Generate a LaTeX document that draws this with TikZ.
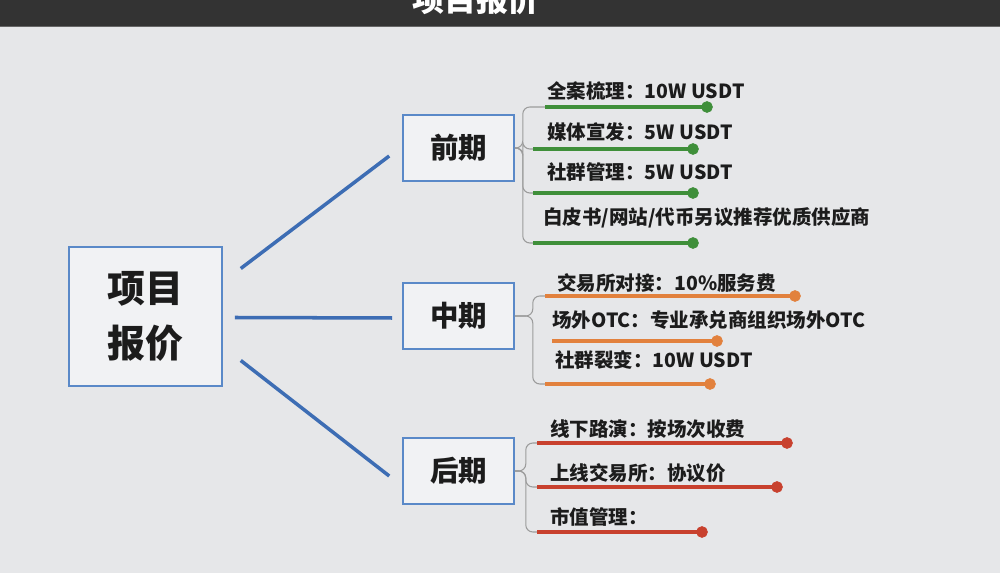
\documentclass[tikz,border=0pt]{standalone}
\usepackage{fontspec}
\newfontfamily\cjk{Noto Sans CJK SC}
\usetikzlibrary{calc}

\definecolor{bgcol}{HTML}{E6E7E9}
\definecolor{barcol}{HTML}{333333}
\definecolor{boxline}{HTML}{5A89C8}
\definecolor{boxfill}{HTML}{F1F2F4}
\definecolor{bluecol}{HTML}{3D6DB4}
\definecolor{greencol}{HTML}{3F8F3A}
\definecolor{orangecol}{HTML}{E2813D}
\definecolor{redcol}{HTML}{C8412E}
\definecolor{brkcol}{HTML}{9C9C9C}
\definecolor{txtcol}{HTML}{1C1C1C}

\begin{document}
\begin{tikzpicture}[x=0.02cm, y=-0.02cm,
    topbox/.style={draw=boxline, line width=0.9pt, fill=boxfill, text=txtcol,
        font=\cjk\bfseries\fontsize{16.2}{18}\selectfont, minimum width=2.22cm, minimum height=1.32cm},
    rootbox/.style={topbox, font=\cjk\bfseries\fontsize{21.6}{31}\selectfont,
        minimum width=3.06cm, minimum height=2.78cm, align=center},
    leaf/.style={anchor=west, inner sep=0pt, text=txtcol, font=\cjk\bfseries\fontsize{11.1}{13}\selectfont},
    bline/.style={bluecol, line width=2pt},
    brk/.style={brkcol, line width=0.6pt, rounded corners=4pt},
    uline/.style={line width=2.2pt}]

    \useasboundingbox (0,0) rectangle (1000,573);
    \clip (0,0) rectangle (1000,573);
    \fill[bgcol] (0,0) rectangle (1000,573);

    % title bar
    \fill[barcol] (0,0) rectangle (1000,26);
    \fill[black!60] (0,26) rectangle (1000,27.5);
    \node[white, font=\cjk\bfseries\fontsize{18.2}{20}\selectfont] (title) at (476,-1) {项目报价};

    % main boxes
    \node[rootbox] (root) at (145.5,316.5) {项目\\报价};
    \node[topbox] (qian) at (458.5,148) {前期};
    \node[topbox] (zhong) at (458.5,316) {中期};
    \node[topbox] (hou) at (458.5,471) {后期};

    \draw[bline] ([shift={(18,-48)}]root.east) -- ([shift={(-13,8)}]qian.west);
    \draw[bline] ([shift={(12,1)}]root.east) -- ([shift={(-10,2)}]zhong.west);
    \draw[bline] ([shift={(18,44)}]root.east) -- ([shift={(-13,5)}]hou.west);

    % 前期
    \coordinate (a1s) at (545,107); \coordinate (a1e) at (707,107);
    \coordinate (a2s) at (533,149); \coordinate (a2e) at (693,149);
    \coordinate (a3s) at (533,193); \coordinate (a3e) at (693,193);
    \coordinate (a4s) at (533,243); \coordinate (a4e) at (693,243);
    \node[leaf] (a1) at (547,91) {全案梳理：10W USDT};
    \node[leaf] (a2) at (547,132) {媒体宣发：5W USDT};
    \node[leaf] (a3) at (547,172) {社群管理：5W USDT};
    \node[leaf] (a4) at (543,218) {白皮书/网站/代币另议推荐优质供应商};
    \foreach \i in {1,...,4} {
        \draw[brk] (qian.east) -- ++(8,0) |- (a\i s);
        \draw[greencol, uline] (a\i s) -- (a\i e);
        \filldraw[greencol] (a\i e) circle (3.1pt);
    }

    % 中期
    \coordinate (b1s) at (545,296); \coordinate (b1e) at (795,296);
    \coordinate (b2s) at (552,341); \coordinate (b2e) at (717,341);
    \coordinate (b3s) at (545,384); \coordinate (b3e) at (710,384);
    \node[leaf] (b1) at (557,283) {交易所对接：10\%服务费};
    \node[leaf] (b2) at (552,320) {场外OTC：专业承兑商组织场外OTC};
    \node[leaf] (b3) at (555,360) {社群裂变：10W USDT};
    \draw[brk] (zhong.east) -- ++(18,0) |- (b1s);
    \draw[brk] (zhong.east) -- ++(18,0) |- (b3s);
    \foreach \i in {1,2,3} {
        \draw[orangecol, uline] (b\i s) -- (b\i e);
        \filldraw[orangecol] (b\i e) circle (3.1pt);
    }

    % 后期
    \coordinate (c1s) at (537,443); \coordinate (c1e) at (787,443);
    \coordinate (c2s) at (537,487); \coordinate (c2e) at (777,487);
    \coordinate (c3s) at (537,532); \coordinate (c3e) at (702,532);
    \node[leaf] (c1) at (550,429) {线下路演：按场次收费};
    \node[leaf] (c2) at (550,473) {上线交易所：协议价};
    \node[leaf] (c3) at (550,517) {市值管理：};
    \foreach \i in {1,2,3} {
        \draw[brk] (hou.east) -- ++(11,0) |- (c\i s);
        \draw[redcol, uline] (c\i s) -- (c\i e);
        \filldraw[redcol] (c\i e) circle (3.1pt);
    }

\end{tikzpicture}
\end{document}
